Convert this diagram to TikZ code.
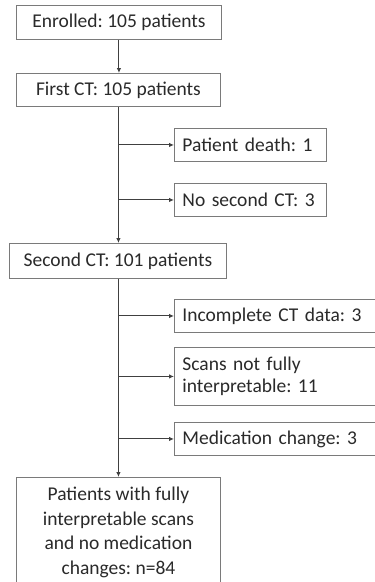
\documentclass[tikz,border=0pt]{standalone}
\usepackage{fontspec}
\setmainfont{Carlito}
\usetikzlibrary{arrows.meta}
\definecolor{txt}{HTML}{2A2A2A}
\definecolor{bord}{HTML}{7A7A7A}
\definecolor{ln}{HTML}{404040}
\frenchspacing
\begin{document}
\begin{tikzpicture}[x=1pt,y=-1pt,
  box/.style={draw=bord,line width=0.9pt,rectangle,anchor=north west,inner sep=0pt,
    text=txt,font=\fontsize{19.5}{22}\selectfont},
  cbox/.style={box,align=center},
  arr/.style={draw=ln,line width=1pt,-{Latex[length=5pt,width=4.5pt]}},
  ln/.style={draw=ln,line width=1pt}]
\useasboundingbox (0,0) rectangle (375,582);
\fill[white] (0,0) rectangle (375,582);
\node[cbox,minimum width=205pt,minimum height=34pt] (enr) at (16,5) {Enrolled: 105 patients};
\node[cbox,minimum width=204pt,minimum height=33pt] (first) at (16,73) {First CT: 105 patients};
\node[box,minimum width=152pt,minimum height=33pt,text width=150pt,align=left] (death) at (174,128) {\hspace*{7pt}Patient death: 1};
\node[box,minimum width=152pt,minimum height=33pt,text width=150pt,align=left] (nosec) at (174,183) {\hspace*{7pt}No second CT: 3};
\node[cbox,minimum width=217pt,minimum height=35pt] (second) at (9,243) {Second CT: 101 patients};
\node[box,minimum width=210pt,minimum height=33pt,text width=208pt,align=left] (incomp) at (174,299) {\hspace*{7pt}Incomplete CT data: 3};
\node[box,minimum width=210pt,minimum height=58pt,text width=208pt,align=left,font=\fontsize{19.5}{22}\selectfont] (scans) at (174,347) {\hspace*{7pt}Scans not fully\\\hspace*{7pt}interpretable: 11};
\node[box,minimum width=210pt,minimum height=33pt,text width=208pt,align=left] (med) at (174,422) {\hspace*{7pt}Medication change: 3};
\node[cbox,minimum width=204pt,minimum height=110pt,font=\fontsize{19.5}{24.7}\selectfont] (final) at (16,477) {Patients with fully\\interpretable scans\\and no medication\\changes: n=84};
\draw[arr] (enr.south) -- (enr.south |- first.north);
\draw[arr] (first.south) -- (first.south |- second.north);
\draw[arr] (first.south |- death.west) -- (death.west);
\draw[arr] (first.south |- nosec.west) -- (nosec.west);
\draw[arr] (first.south |- second.south) -- (first.south |- final.north);
\draw[arr] (first.south |- incomp.west) -- (incomp.west);
\draw[arr] (first.south |- scans.west) -- (scans.west);
\draw[arr] (first.south |- med.west) -- (med.west);
\end{tikzpicture}
\end{document}
